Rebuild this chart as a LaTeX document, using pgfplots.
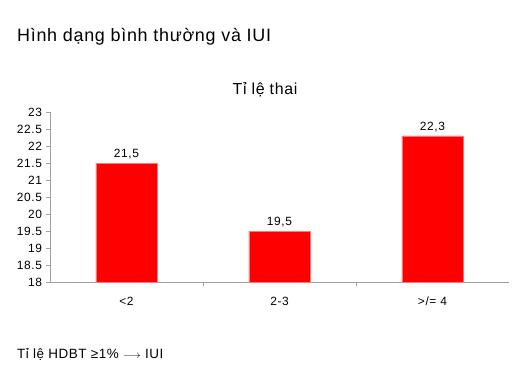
\documentclass[border=0pt]{standalone}
\usepackage{pgfplots}
\pgfplotsset{compat=1.18}
\usepackage{fontspec}
\setmainfont{Liberation Sans}[LetterSpace=5]
\newfontfamily\widefont{Liberation Sans}[LetterSpace=4]
\definecolor{axgray}{RGB}{160,160,160}
\definecolor{barred}{RGB}{255,0,0}
\definecolor{baredge}{RGB}{255,120,120}
\begin{document}
\begin{tikzpicture}
\useasboundingbox (0bp,0bp) rectangle (530bp,372bp);
\node[anchor=base west, inner sep=0pt, font=\widefont\fontsize{18}{20}\selectfont] at (17bp,330bp) {Hình dạng bình thường và IUI};
\node[anchor=base, inner sep=0pt, font=\widefont\fontsize{16}{18}\selectfont] at (265bp,277bp) {Tỉ lệ thai};
\node[anchor=base west, inner sep=0pt, font=\widefont\fontsize{13.5}{15}\selectfont] at (17bp,14bp) {Tỉ lệ HDBT ≥1\% {\fontsize{11}{12}\selectfont$\longrightarrow$} IUI};
\begin{axis}[
  at={(50bp,90bp)}, anchor=south west,
  scale only axis, width=459bp, height=170bp,
  ymin=18, ymax=23, xmin=-0.5, xmax=2.5,
  axis x line*=bottom, axis y line*=left,
  axis line style={draw=axgray, line width=0.8pt},
  ytick distance=0.5,
  xtick={0,1,2}, xticklabels={<2, 2-3, >/= 4},
  x tick style={draw=none},
  extra x ticks={0.5,1.5}, extra x tick labels={},
  extra x tick style={x tick style={draw=axgray, line width=0.8pt}},
  y tick style={draw=axgray, line width=0.8pt},
  tick align=outside, major tick length=4bp,
  /pgf/number format/assume math mode=true,
  ticklabel style={font=\fontsize{12}{13}\selectfont},
  yticklabel style={xshift=-0.5bp},
  xticklabel style={anchor=base, yshift=-19bp},
  ybar, bar width=0.4, bar shift=0pt,
  nodes near coords={\pgfmathprintnumber[fixed,precision=1,use comma,assume math mode=true]{\pgfplotspointmeta}},
  nodes near coords style={font=\fontsize{12}{13}\selectfont, text=black},
  clip=false,
]
\addplot[fill=barred, draw=baredge, line width=0.6pt] coordinates {(0,21.5) (1,19.5) (2,22.3)};
\end{axis}
\end{tikzpicture}
\end{document}
